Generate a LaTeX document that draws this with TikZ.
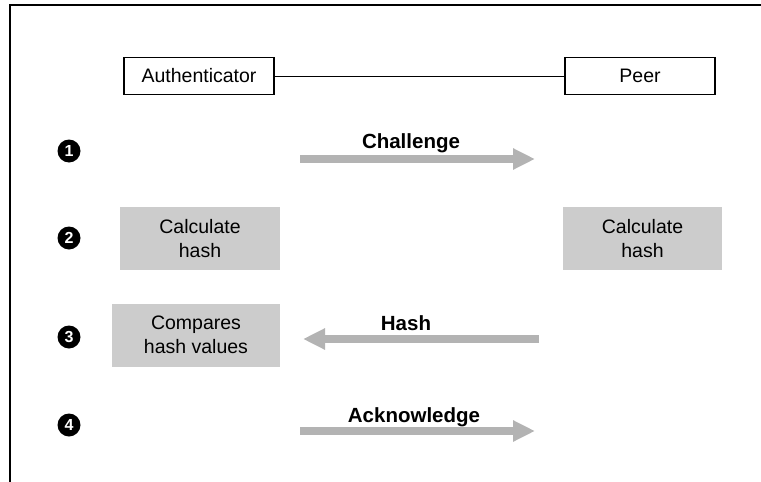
\documentclass[tikz,border=0pt]{standalone}
\usepackage{fontspec}
\setmainfont{Liberation Sans}
\usepackage{tikz}
\usetikzlibrary{positioning, shapes, arrows.meta}

\begin{document}
\begin{tikzpicture}[
    x=1pt, y=-1pt,
    party/.style={draw, rectangle, line width=1.5pt, minimum width=150pt, minimum height=37pt, inner sep=0pt, font=\fontsize{19.5}{23}\selectfont},
    task/.style={rectangle, fill=taskgray, minimum height=63pt, inner sep=0pt, align=center, font=\fontsize{19.5}{24}\selectfont},
    num/.style={circle, fill=black, text=white, minimum size=23pt, inner sep=0pt, font=\bfseries\fontsize{16}{16}\selectfont},
    lbl/.style={anchor=base, font=\bfseries\fontsize{20.5}{22}\selectfont},
    flow/.style={-{Triangle[length=22pt, width=20pt]}, line width=8pt, draw=flowgray}
]
\definecolor{taskgray}{HTML}{CCCCCC}
\definecolor{flowgray}{HTML}{B3B3B3}
\useasboundingbox (0,0) rectangle (761,482);

% Frame, left and top only
\draw[line width=2.5pt] (10,482) -- (10,5) -- (761,5);

% The two parties
\node[party] (auth) at (199,76) {Authenticator};
\node[party] (peer) at (640,76) {Peer};
\draw[line width=1pt] (auth) -- (peer);

% Step numbers
\node[num] (n1) at (69,151) {1};
\node[num] (n2) at (69,238) {2};
\node[num] (n3) at (69,337) {3};
\node[num] (n4) at (69,425) {4};

% Work on each side
\node[task, minimum width=160pt] (calcA) at (200,238.5) {Calculate\\hash};
\node[task, minimum width=159pt] (calcP) at (642.5,238.5) {Calculate\\hash};
\node[task, minimum width=168pt] (cmp) at (196,335) {Compares\\hash values};

% Messages
\coordinate (c1s) at (300,159);
\coordinate (c1e) at (535,159);
\coordinate (c3s) at (539,339);
\coordinate (c3e) at (303,339);
\coordinate (c4s) at (300,431);
\coordinate (c4e) at (535,431);
\draw[flow] (c1s) -- (c1e);
\draw[flow] (c3s) -- (c3e);
\draw[flow] (c4s) -- (c4e);

% Labels
\node[lbl] (chl) at (411,148) {Challenge};
\node[lbl] (hsh) at (406,330) {Hash};
\node[lbl] (ack) at (414,422) {Acknowledge};

\end{tikzpicture}
\end{document}
